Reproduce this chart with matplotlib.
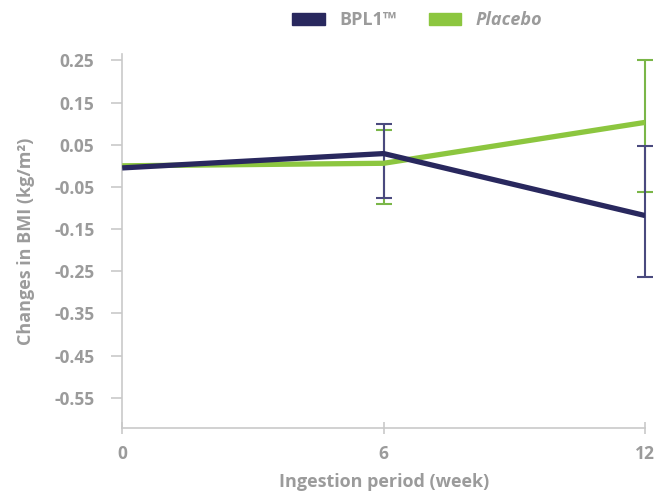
import matplotlib.pyplot as plt
from matplotlib.patches import Patch

weeks = [0, 6, 12]
bpl1 = [-0.005, 0.029, -0.118]
placebo = [0.0, 0.006, 0.103]
# error bars: centre and half-width (no bar at week 0)
err_weeks = [6, 12]
bpl1_err_mid = [0.012, -0.109]
bpl1_err = [0.088, 0.155]
placebo_err_mid = [-0.002, 0.094]
placebo_err = [0.088, 0.156]

navy = '#29285e'
green = '#8cc63f'
grey = '#9b9b9b'

plt.rcParams['font.family'] = ['Open Sans', 'DejaVu Sans']

fig = plt.figure(figsize=(6.57, 4.95), dpi=100)
ax = fig.add_axes([0.186, 0.135, 0.796, 0.755])

for mid, err, col in [(placebo_err_mid, placebo_err, '#7ab648'),
                      (bpl1_err_mid, bpl1_err, '#4a4a7e')]:
    eb = ax.errorbar(err_weeks, mid, yerr=err, fmt='none', ecolor=col,
                     elinewidth=1.5, capsize=6, capthick=1.5, zorder=2)
    for a in eb.lines[1] + eb.lines[2]:
        a.set_clip_on(False)
ax.plot(weeks, placebo, color=green, lw=3.8, zorder=3, solid_capstyle='butt')
ax.plot(weeks, bpl1, color=navy, lw=3.8, zorder=4, solid_capstyle='butt')

ax.set_xlim(0, 12)
ax.set_ylim(-0.622, 0.264)
ax.set_xticks(weeks)
ax.set_xticklabels(['0', '6', '12'])
yt = [0.25, 0.15, 0.05, -0.05, -0.15, -0.25, -0.35, -0.45, -0.55]
ax.set_yticks(yt)
ax.set_yticklabels(['%.2f' % v for v in yt])

for s in ['top', 'right']:
    ax.spines[s].set_visible(False)
for s in ['left', 'bottom']:
    ax.spines[s].set_color('#c9c9c9')
    ax.spines[s].set_linewidth(1.2)
ax.tick_params(axis='y', direction='out', length=8, width=1.2, color='#c9c9c9',
               labelcolor=grey, labelsize=12.5, pad=12)
ax.tick_params(axis='x', direction='inout', length=8, width=1.2, color='#c9c9c9',
               labelcolor=grey, labelsize=12.5, pad=8)
for lab in ax.get_xticklabels() + ax.get_yticklabels():
    lab.set_fontweight('bold')

ax.set_ylabel('Changes in BMI (kg/m²)', color=grey, fontsize=13,
              fontweight='bold', labelpad=14)
ax.set_xlabel('Ingestion period (week)', color=grey, fontsize=13,
              fontweight='bold', labelpad=7)

handles = [Patch(color=navy), Patch(color=green)]
leg = fig.legend(handles, ['BPL1™', 'Placebo'], loc='upper center',
                 bbox_to_anchor=(0.635, 1.01), ncol=2, frameon=False,
                 handlelength=1.8, handleheight=0.7, columnspacing=1.8,
                 fontsize=13)
for t in leg.get_texts():
    t.set_color(grey)
    t.set_fontweight('bold')
leg.get_texts()[1].set_fontstyle('italic')

fig.savefig('out.png', dpi=100)
